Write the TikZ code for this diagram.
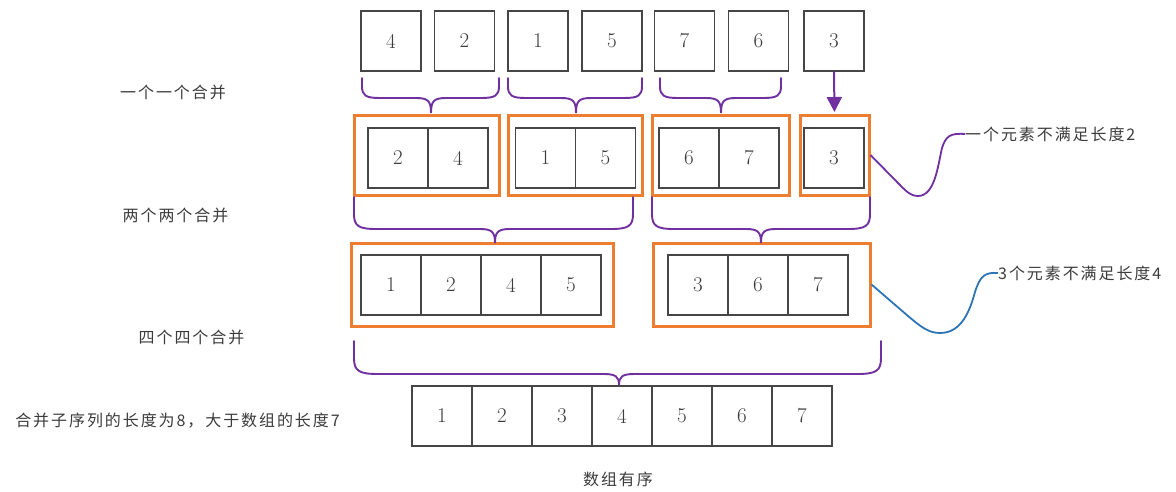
\documentclass[tikz,border=0pt]{standalone}
\usepackage{fontspec}
\newfontfamily\cjk[LetterSpace=12]{Noto Sans CJK SC}
\usetikzlibrary{arrows.meta}
\definecolor{myorange}{RGB}{237,125,49}
\definecolor{mypurple}{RGB}{112,48,160}
\definecolor{myblue}{RGB}{46,117,182}
\definecolor{boxgray}{RGB}{70,70,70}
\definecolor{txtgray}{RGB}{60,60,60}
\newcommand{\mybrace}[7]{% x1 x2 xtip ytop yh ytip r
  \draw[br] (#1,#4) -- ({#1},{#5-#7}) .. controls ({#1},{#5-0.2*#7}) and ({#1+0.3*#7},{#5}) .. ({#1+1.5*#7},{#5})
    -- ({#3-15},{#5}) .. controls ({#3-3},{#5}) and ({#3},{#5+3}) .. ({#3},{#6})
    .. controls ({#3},{#5+3}) and ({#3+3},{#5}) .. ({#3+15},{#5})
    -- ({#2-1.5*#7},{#5}) .. controls ({#2-0.3*#7},{#5}) and ({#2},{#5-0.2*#7}) .. ({#2},{#5-#7}) -- ({#2},{#4});}
\begin{document}
\begin{tikzpicture}[x=1pt,y=-1pt,
 cell/.style={draw=boxgray,line width=1.2pt,minimum width=60pt,minimum height=60pt,inner sep=0pt,font=\fontsize{21}{21}\selectfont,text=txtgray},
 grp/.style={draw=myorange,line width=3pt,inner sep=0pt},
 br/.style={draw=mypurple,line width=1.9pt,line cap=round},
 lbl/.style={font=\cjk\fontsize{16}{16}\selectfont,text=txtgray,inner sep=0pt}]
\fill[white] (0,0) rectangle (1176,491);
\useasboundingbox (0,0) rectangle (1176,491);

% top row
\node[cell] (t1) at (391,41) {4};
\node[cell] (t2) at (464.5,41) {2};
\node[cell] (t3) at (538,41) {1};
\node[cell] (t4) at (612,41) {5};
\node[cell] (t5) at (684.5,41) {7};
\node[cell] (t6) at (758.5,41) {6};
\node[cell] (t7) at (834,41) {3};

% row 2 groups
\node[grp,minimum width=145pt,minimum height=80pt] (o1) at (426.5,155) {};
\node[grp,minimum width=134pt,minimum height=80pt] (o2) at (575,155) {};
\node[grp,minimum width=137pt,minimum height=80pt] (o3) at (720.5,155) {};
\node[grp,minimum width=69pt,minimum height=80pt] (o4) at (834.5,155) {};
\node[cell] (p1) at (398,158) {2};
\node[cell] (p2) at (458,158) {4};
\node[cell] (p3) at (545.5,158) {1};
\node[cell] (p4) at (605.5,158) {5};
\node[cell] (p5) at (689,158) {6};
\node[cell] (p6) at (749,158) {7};
\node[cell] (p7) at (834,158) {3};

% row 3 groups
\node[grp,minimum width=262pt,minimum height=83pt] (oA) at (482,284.5) {};
\node[grp,minimum width=217pt,minimum height=83pt] (oB) at (761.5,284.5) {};
\node[cell] (q1) at (391,285) {1};
\node[cell] (q2) at (451,285) {2};
\node[cell] (q3) at (511,285) {4};
\node[cell] (q4) at (571,285) {5};
\node[cell] (q5) at (698,285) {3};
\node[cell] (q6) at (758,285) {6};
\node[cell] (q7) at (818,285) {7};

% bottom row
\foreach \v [count=\i] in {1,...,7}
  \node[cell] (r\i) at ({382+60*\i},416) {\v};

% braces
\mybrace{362}{499}{431}{78}{98}{113}{12}
\mybrace{508}{642}{576}{78}{98}{113}{12}
\mybrace{660}{781}{721}{78}{98}{113}{12}
\mybrace{354}{633}{495}{197}{229}{243}{15}
\mybrace{652}{870}{761}{197}{229}{243}{15}
\mybrace{354}{881}{619}{341}{374}{385}{16}

% arrow
\draw[mypurple,line width=2pt,-{Triangle[length=15pt,width=15pt]},shorten >=1.5pt] (t7.south) -- (o4.north);

% labels
\node[lbl] (l1) at (173,92) {一个一个合并};
\node[lbl] (l2) at (175.5,215) {两个两个合并};
\node[lbl] (l3) at (191.5,337) {四个四个合并};
\node[lbl] (l4) at (177.5,421) {合并子序列的长度为8，大于数组的长度7};
\node[lbl] (l5) at (618,479) {数组有序};
\node[lbl,anchor=west] (n1) at (965,134) {一个元素不满足长度2};
\node[lbl,anchor=west] (n2) at (998,273) {3个元素不满足长度4};

% callouts
\draw[mypurple,line width=1.8pt] (o4.east) -- (898,183) .. controls (905,190) and (910,196) .. (918,196)
  .. controls (935,196) and (938,165) .. (942,148) .. controls (946,136) and (950,133) .. (n1.west);
\draw[myblue,line width=1.8pt] (oB.east) -- (908,316) .. controls (920,326) and (928,333) .. (940,333)
  .. controls (962,333) and (970,310) .. (975,292) .. controls (980,276) and (985,272) .. (n2.west);
\end{tikzpicture}
\end{document}
